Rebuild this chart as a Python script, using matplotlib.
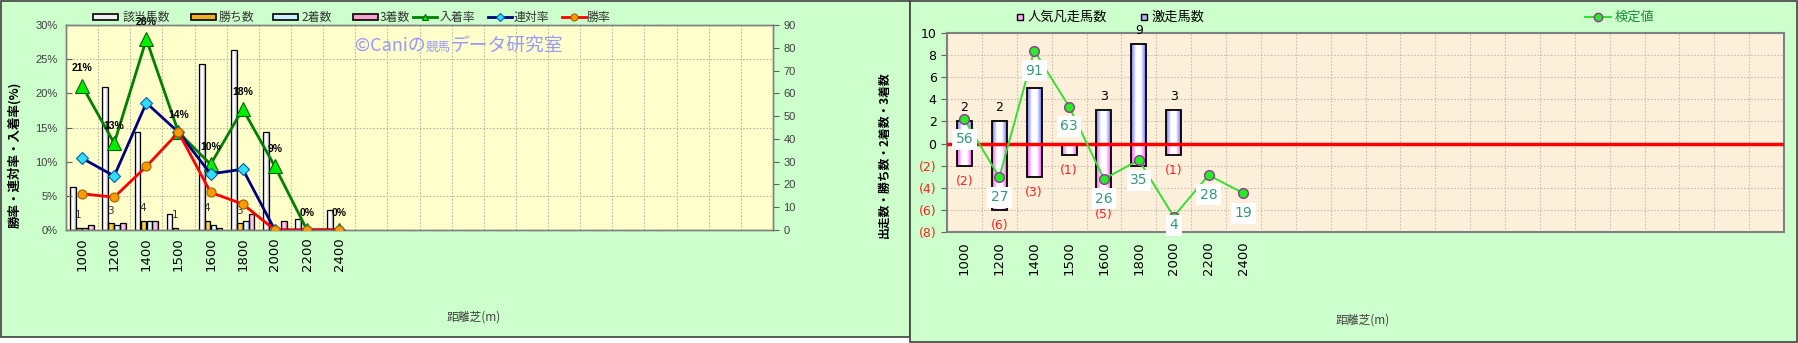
import numpy as np
import matplotlib
matplotlib.use('Agg')
import matplotlib.pyplot as plt
from matplotlib.patches import Rectangle
from matplotlib.lines import Line2D
from matplotlib.ticker import MultipleLocator, FixedLocator, FuncFormatter
from matplotlib.offsetbox import TextArea, HPacker, AnnotationBbox
from matplotlib.colors import LinearSegmentedColormap

plt.rcParams['font.family'] = ['Noto Sans CJK JP', 'DejaVu Sans']

# ---------------- data ----------------
distances = ['1000', '1200', '1400', '1500', '1600', '1800', '2000', '2200', '2400']
runners = [19, 63, 43, 7, 73, 79, 43, 5, 9]
wins = [1, 3, 4, 1, 4, 3, 0, 0, 0]
seconds = [1, 2, 4, 0, 2, 4, 0, 0, 0]
thirds = [2, 3, 4, 0, 1, 7, 4, 0, 0]
place_rate = [21.1, 12.7, 27.9, 14.3, 9.6, 17.7, 9.3, 0.0, 0.0]
rentai_rate = [10.5, 7.9, 18.6, 14.3, 8.2, 8.9, 0.0, 0.0, 0.0]
win_rate = [5.3, 4.8, 9.3, 14.3, 5.5, 3.8, 0.0, 0.0, 0.0]
place_labels = ['21%', '13%', '28%', '14%', '10%', '18%', '9%', '0%', '0%']

ninki_bonsou = [-2, -6, -3, -1, -5, -2, -1, 0, 0]
gekisou = [2, 2, 5, 0, 3, 9, 3, 0, 0]
kentei_y = [2.2, -3.05, 8.4, 3.35, -3.2, -1.5, -6.6, -2.85, -4.5]
kentei_labels = ['56', '27', '91', '63', '26', '35', '4', '28', '19']

# ---------------- figure ----------------
W, H = 1798, 343
fig = plt.figure(figsize=(W / 100, H / 100), dpi=100)
fig.patch.set_facecolor('white')


def fx(x):
    return x / W


def fy(y):
    return 1 - y / H


fig.add_artist(Rectangle((fx(0.5), fy(337)), 909.5 / W, 336.5 / H, transform=fig.transFigure,
                         facecolor='#CCFFCC', edgecolor='#404040', lw=1.2, zorder=0))
fig.add_artist(Rectangle((fx(910), fy(342)), 887 / W, 341.5 / H, transform=fig.transFigure,
                         facecolor='#CCFFCC', edgecolor='#404040', lw=1.2, zorder=0))


def gradient_bars(ax, bars, edge_col, center_col, z=2):
    cmap = LinearSegmentedColormap.from_list('g', [edge_col, center_col, center_col, edge_col])
    g = np.linspace(0, 1, 64).reshape(1, -1)
    for p in bars:
        h = p.get_height()
        if h == 0:
            p.set_visible(False)
            continue
        x0 = p.get_x()
        w = p.get_width()
        y0 = p.get_y()
        ya, yb = sorted([y0, y0 + h])
        im = ax.imshow(g, extent=[x0, x0 + w, ya, yb], aspect='auto', cmap=cmap,
                       zorder=z, interpolation='bilinear')
        im.set_clip_path(p)
        p.set_zorder(z + 0.1)


# ---------------- left panel ----------------
ax_c = fig.add_axes([fx(66), fy(230), (773 - 66) / W, 205 / H])
ax_c.set_facecolor('#FFFFCC')
ax_p = ax_c.twinx()

x = np.arange(len(distances))
bw = 0.175
series = [(runners, '#A8A8A8', '#FFFFFF'), (wins, '#C08000', '#FFD040'),
          (seconds, '#70C0D8', '#E8FFFF'), (thirds, '#E060A8', '#FFC8E8')]
for i, (vals, ec, cc) in enumerate(series):
    bars = ax_c.bar(x + (i - 1.5) * (bw + 0.01), vals, bw, facecolor='none',
                    edgecolor='black', lw=0.9, zorder=2)
    gradient_bars(ax_c, bars, ec, cc, z=2)

for xi, w in zip(x, wins):
    if w > 0:
        ax_c.annotate(str(w), (xi - 0.6 * (bw + 0.01), w), xytext=(0, 9), textcoords='offset points',
                      ha='center', va='center', fontsize=7.5, color='#333333',
                      family='DejaVu Sans', zorder=1.5)

ax_c.set_xlim(-0.5, 21.5)
ax_c.set_ylim(0, 90)
ax_c.yaxis.tick_right()
ax_c.yaxis.set_major_locator(MultipleLocator(10))
ax_c.yaxis.set_minor_locator(MultipleLocator(15))
ax_c.xaxis.set_minor_locator(FixedLocator(np.arange(0.5, 21.5, 1)))
ax_c.grid(which='minor', color='#B8B8A0', lw=0.8, ls=(0, (1.5, 1.5)))
ax_c.set_axisbelow(True)
ax_c.tick_params(which='minor', length=0)
ax_c.tick_params(axis='y', which='major', direction='out', length=4, labelsize=8,
                 labelcolor='#404040', color='#606060')
ax_c.set_xticks(x)
ax_c.set_xticklabels(distances, rotation=90, fontsize=9.5, family='DejaVu Sans')
ax_c.tick_params(axis='x', which='major', length=0, pad=5.5)
for lbl in ax_c.get_yticklabels():
    lbl.set_fontfamily('Liberation Sans')

ax_p.plot(x, place_rate, color='#008000', lw=2, marker='^', ms=9.5, mfc='#00EE00',
          mec='#006600', mew=0.8, zorder=5)
ax_p.plot(x, rentai_rate, color='#000080', lw=2, marker='D', ms=6, mfc='#33DDFF',
          mec='#0060A0', mew=0.8, zorder=6)
ax_p.plot(x, win_rate, color='#FF0000', lw=2, marker='o', ms=6.5, mfc='#FF9900',
          mec='#996600', mew=0.8, zorder=7)
for xi, yi, lb in zip(x, place_rate, place_labels):
    ax_p.annotate(lb, (xi, yi), xytext=(0, 12.5), textcoords='offset points', ha='center',
                  va='center', fontsize=7.5, fontweight='bold', family='Liberation Sans',
                  color='black', zorder=8)
ax_p.set_ylim(0, 30)
ax_p.yaxis.tick_left()
ax_p.yaxis.set_major_locator(MultipleLocator(5))
ax_p.yaxis.set_major_formatter(FuncFormatter(lambda v, p: '%d%%' % v))
ax_p.tick_params(axis='y', direction='in', length=4, labelsize=8, labelcolor='#404040',
                 color='#606060', pad=6)
for lbl in ax_p.get_yticklabels():
    lbl.set_fontfamily('Liberation Sans')

for a in (ax_c, ax_p):
    for s in a.spines.values():
        s.set_color('#808080')
        s.set_linewidth(1)

fig.text(fx(15), fy(155), '勝率・連対率・入着率(%)', rotation=90, ha='center', va='center',
         fontsize=9, fontweight='bold', color='black')
fig.text(fx(884), fy(155), '出走数・勝ち数・2着数・3着数', rotation=90, ha='center', va='center',
         fontsize=8.5, fontweight='bold', color='black')
fig.text(fx(474), fy(317), '距離芝(m)', ha='center', va='center', fontsize=8.5, color='#404040')

# watermark
pack = HPacker(children=[TextArea('©Caniの', textprops=dict(color='#9999FF', fontsize=13)),
                         TextArea('競馬', textprops=dict(color='#9999FF', fontsize=9)),
                         TextArea('データ研究室', textprops=dict(color='#9999FF', fontsize=13.5))],
               align='baseline', pad=0, sep=0)
fig.add_artist(AnnotationBbox(pack, (fx(355), fy(45)), xycoords='figure fraction',
                              box_alignment=(0, 0.5), frameon=False, zorder=9))

# left legend
leg_bar = [('該当馬数', 93, 122, '#F0F0F0'), ('勝ち数', 191, 219, '#F0B020'),
           ('2着数', 273, 302, '#C8F0FF'), ('3着数', 353, 380, '#F8A0D0')]
for name, sx, tx, col in leg_bar:
    fig.add_artist(Rectangle((fx(sx), fy(20)), 25 / W, 6 / H, transform=fig.transFigure,
                             facecolor=col, edgecolor='black', lw=1.2))
    fig.text(fx(tx), fy(17), name, ha='left', va='center', fontsize=8.6, color='#333333')
leg_line = [('入着率', 413, 440, '#008000', '^', '#00EE00', '#006600', 5),
            ('連対率', 488, 514, '#000080', 'D', '#33DDFF', '#0060A0', 4),
            ('勝率', 562, 587, '#FF0000', 'o', '#FF9900', '#996600', 5)]
for name, sx, tx, col, mk, mfc, mec, ms in leg_line:
    fig.add_artist(Line2D([fx(sx), fx(sx + 24)], [fy(17), fy(17)], transform=fig.transFigure,
                          color=col, lw=2))
    fig.add_artist(Line2D([fx(sx + 12)], [fy(17)], transform=fig.transFigure, marker=mk,
                          ms=ms, mfc=mfc, mec=mec, mew=0.8, lw=0))
    fig.text(fx(tx), fy(17), name, ha='left', va='center', fontsize=8.6, color='#333333')

# ---------------- right panel ----------------
ax_r = fig.add_axes([fx(947), fy(232), 837 / W, 199 / H])
ax_r.set_facecolor('#FCF0DA')
bw2 = 0.43
b1 = ax_r.bar(x, gekisou, bw2, facecolor='none', edgecolor='black', lw=1.3, zorder=2)
gradient_bars(ax_r, b1, '#7070FF', '#FFFFFF', z=2)
b2 = ax_r.bar(x, ninki_bonsou, bw2, facecolor='none', edgecolor='black', lw=1.3, zorder=2)
gradient_bars(ax_r, b2, '#FF50FF', '#FFFFFF', z=2)
ax_r.axhline(0, color='#FF0000', lw=2.5, zorder=3)

for xi, v in zip(x, gekisou):
    if v > 0:
        ax_r.annotate(str(v), (xi, v), xytext=(0, 9.7), textcoords='offset points',
                      ha='center', va='center', fontsize=9, color='black',
                      family='DejaVu Sans', zorder=4)
for xi, v in zip(x, ninki_bonsou):
    if v < 0:
        ax_r.annotate('(%d)' % (-v), (xi, v), xytext=(0, -11.5), textcoords='offset points',
                      ha='center', va='center', fontsize=9, color='#FF2020',
                      family='DejaVu Sans', zorder=4)

ax_r.plot(x, kentei_y, color='#33E033', lw=1.4, marker='o', ms=7, mfc='#22EE22',
          mec='#993399', mew=1, zorder=5)
for xi, yi, lb in zip(x, kentei_y, kentei_labels):
    ax_r.annotate(lb, (xi, yi), xytext=(xi, max(yi - 1.8, -7.4)), textcoords='data',
                  ha='center', va='center', fontsize=10, color='#339977', family='DejaVu Sans',
                  bbox=dict(boxstyle='square,pad=0.25', fc='white', ec='none'), zorder=6)

ax_r.set_xlim(-0.5, 23.5)
ax_r.set_ylim(-8, 10)
ax_r.yaxis.set_major_locator(MultipleLocator(2))
ax_r.yaxis.set_major_formatter(FuncFormatter(lambda v, p: '%d' % v if v >= 0 else '(%d)' % (-v)))
ax_r.xaxis.set_minor_locator(FixedLocator(np.arange(0.5, 23.5, 1)))
ax_r.grid(which='minor', axis='x', color='#C8C0B0', lw=0.8, ls=(0, (1.5, 1.5)))
ax_r.grid(which='major', axis='y', color='#C8C0B0', lw=0.8, ls=(0, (1.5, 1.5)))
ax_r.set_axisbelow(True)
ax_r.tick_params(which='minor', length=0)
ax_r.tick_params(axis='y', direction='out', length=4, labelsize=9, color='#606060')
ax_r.set_xticks(x)
ax_r.set_xticklabels(distances, rotation=90, fontsize=9.5, family='DejaVu Sans')
ax_r.tick_params(axis='x', which='major', length=0, pad=7)
fig.canvas.draw()
for lbl in ax_r.get_yticklabels():
    lbl.set_fontfamily('DejaVu Sans')
    if lbl.get_text().startswith('('):
        lbl.set_color('#FF2020')
for s in ax_r.spines.values():
    s.set_color('#808080')
    s.set_linewidth(1.5)

fig.text(fx(1363), fy(320), '距離芝(m)', ha='center', va='center', fontsize=8.5, color='#404040')

# right legends
fig.add_artist(Rectangle((fx(1017), fy(20)), 6 / W, 6 / H, transform=fig.transFigure,
                         facecolor='#FFB0FF', edgecolor='black', lw=1))
fig.text(fx(1028), fy(17), '人気凡走馬数', ha='left', va='center', fontsize=9.5, color='black')
fig.add_artist(Rectangle((fx(1141), fy(20)), 6 / W, 6 / H, transform=fig.transFigure,
                         facecolor='#B0B0FF', edgecolor='black', lw=1))
fig.text(fx(1151), fy(17), '激走馬数', ha='left', va='center', fontsize=9.5, color='black')
fig.add_artist(Line2D([fx(1585), fx(1611)], [fy(17), fy(17)], transform=fig.transFigure,
                      color='#33E033', lw=1.4))
fig.add_artist(Line2D([fx(1598)], [fy(17)], transform=fig.transFigure, marker='o', ms=6,
                      mfc='#22EE22', mec='#993399', mew=1, lw=0))
fig.text(fx(1615), fy(17), '検定値', ha='left', va='center', fontsize=9.5, color='#1E8B3A')

fig.savefig('out.png', dpi=100, facecolor='white')
